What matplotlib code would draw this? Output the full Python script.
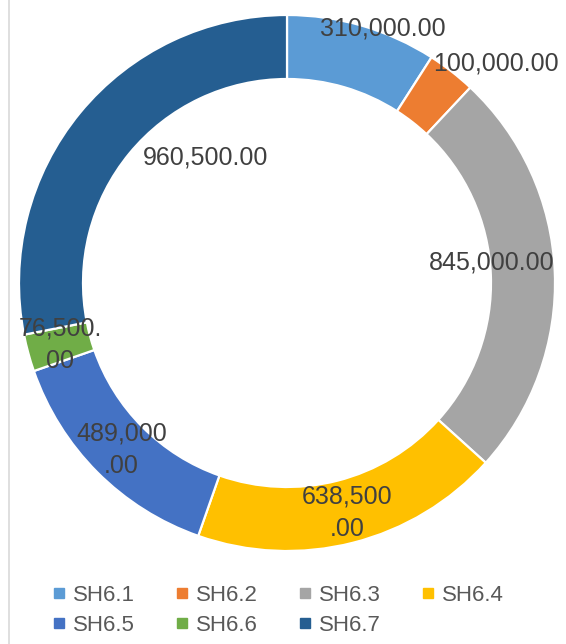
import matplotlib
matplotlib.use('Agg')

import matplotlib.pyplot as plt
import numpy as np
from matplotlib.lines import Line2D

plt.rcParams['font.family'] = ['Liberation Sans', 'DejaVu Sans']

W, H = 566, 644

categories = ['SH6.1', 'SH6.2', 'SH6.3', 'SH6.4', 'SH6.5', 'SH6.6', 'SH6.7']
values = [310000.00, 100000.00, 845000.00, 638500.00, 489000.00, 76500.00, 960500.00]
colors = ['#5B9BD5', '#ED7D31', '#A5A5A5', '#FFC000', '#4472C4', '#70AD47', '#255E91']
label_texts = ['310,000.00', '100,000.00', '845,000.00', '638,500\n.00',
               '489,000\n.00', '76,500.\n00', '960,500.00']

# where excel dropped each data label: (radius in px, angle shift in degrees)
label_place = [(272, -4.3), (303, -5.6), (206, 3.4), (237, 0.4), (235, 0.3), (235, 0.1), (150, -17.6)]

CENTER = (287, H - 283)
RADIUS = 268
RING = 64


def main() -> None:
    fig = plt.figure(figsize=(W / 100, H / 100), dpi=100)
    ax = fig.add_axes([0, 0, 1, 1])
    ax.set_xlim(0, W)
    ax.set_ylim(0, H)
    ax.axis('off')

    wedges, _ = ax.pie(
        values,
        colors=colors,
        startangle=90,
        counterclock=False,
        center=CENTER,
        radius=RADIUS,
        wedgeprops=dict(width=RING, edgecolor='white', linewidth=1.6),
    )
    ax.set_xlim(0, W)
    ax.set_ylim(0, H)

    for w, txt, (r, shift) in zip(wedges, label_texts, label_place):
        mid = np.deg2rad((w.theta1 + w.theta2) / 2 + shift)
        x = CENTER[0] + r * np.cos(mid)
        y = CENTER[1] + r * np.sin(mid)
        ax.text(x, y, txt, ha='center', va='center', fontsize=18,
                color='#404040', linespacing=1.45)

    handles = [Line2D([], [], marker='s', linestyle='none', markersize=7,
                      markerfacecolor=c, markeredgecolor=c) for c in colors]
    order = [0, 4, 1, 5, 2, 6, 3]
    ax.legend(
        [handles[i] for i in order],
        [categories[i] for i in order],
        ncol=4,
        loc='center',
        bbox_to_anchor=(277.5 / W, 1 - 610.5 / H),
        bbox_transform=fig.transFigure,
        frameon=False,
        fontsize=16,
        handlelength=0.7,
        handletextpad=0.28,
        columnspacing=1.78,
        labelspacing=0.42,
        labelcolor='#595959',
    )

    fig.add_artist(Line2D([8.5 / W, 8.5 / W], [0, 1], color='#D9D9D9',
                          linewidth=1.2, transform=fig.transFigure))

    fig.savefig('out.png', dpi=100)


if __name__ == '__main__':
    main()
